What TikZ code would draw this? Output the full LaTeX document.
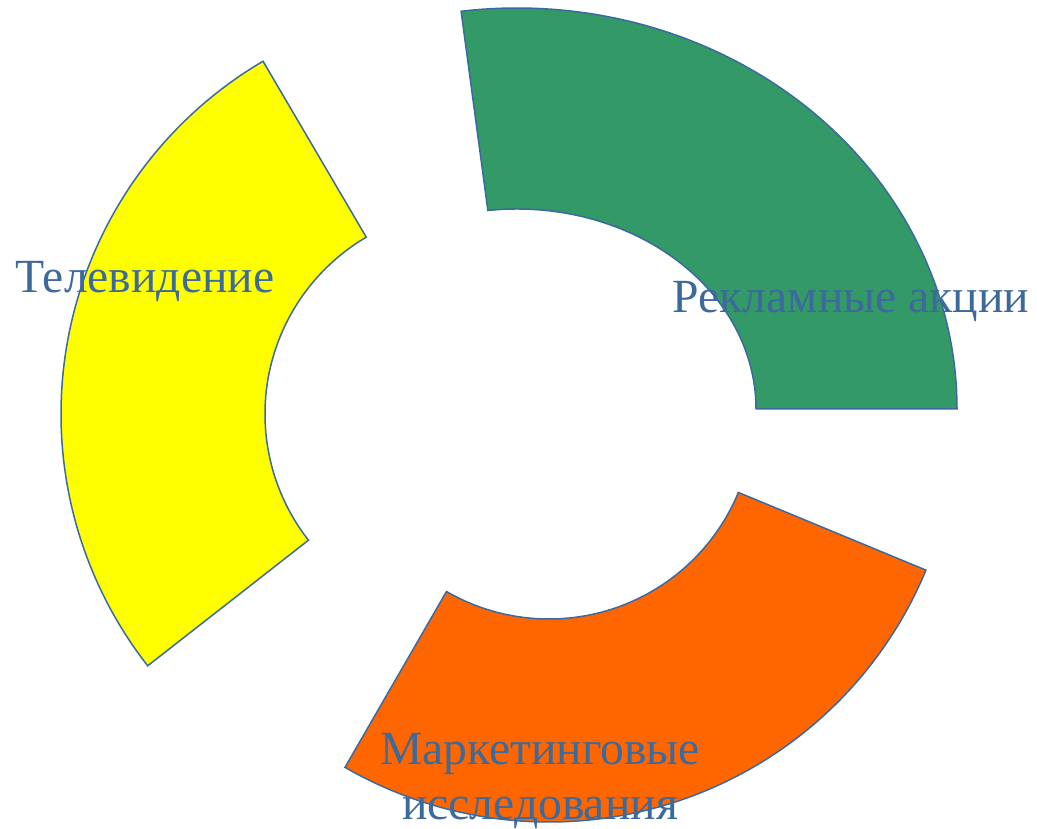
\documentclass[tikz,border=0pt]{standalone}
\usepackage{fontspec}
\setmainfont{Liberation Serif}
\usetikzlibrary{calc}
\definecolor{segline}{HTML}{3A6AA0}
\definecolor{labeltext}{HTML}{3C6A9C}
\definecolor{seggreen}{HTML}{339966}
\definecolor{segorange}{HTML}{FF6600}
\definecolor{segyellow}{HTML}{FFFF00}
\tikzset{
  segment/.style={draw=segline, line width=1.5pt, line join=miter},
  lbl/.style={text=labeltext, inner sep=0pt, font=\fontsize{47.6}{55}\selectfont, anchor=base}
}
\begin{document}
\begin{tikzpicture}[x=1pt,y=1pt]
\useasboundingbox (0,0) rectangle (1037,828);
% centres
\coordinate (cg) at (517,419);
\coordinate (co) at (549,414);
\coordinate (cy) at (470,414);
% yellow segment
\draw[segment, fill=segyellow] ($(cy)+(120.4:409pt)$) arc[start angle=120.4,end angle=218,radius=409pt]
  -- ($(cy)+(218:205pt)$) arc[start angle=218,end angle=120.4,radius=205pt] -- cycle;
% green segment (elliptical)
\draw[segment, fill=seggreen] ($(cg)+(440,0)$) arc[start angle=0,end angle=97.3,x radius=440pt,y radius=401pt]
  -- ($(cg)+({239*cos(97)},{200*sin(97)})$) arc[start angle=97,end angle=0,x radius=239pt,y radius=200pt] -- cycle;
% orange segment
\draw[segment, fill=segorange] ($(co)+(-22.5:408pt)$) arc[start angle=-22.5,end angle=-120,radius=408pt]
  -- ($(co)+(-120:205pt)$) arc[start angle=-120,end angle=-22.5,radius=205pt] -- cycle;
% labels
\node[lbl] (tv) at (145,535) {Телевидение};
\node[lbl] (ra) at (851,515) {Рекламные акции};
\node[lbl] (mk1) at (540,63) {Маркетинговые};
\node[lbl] (mk2) at (540,9) {исследования};
\end{tikzpicture}
\end{document}
